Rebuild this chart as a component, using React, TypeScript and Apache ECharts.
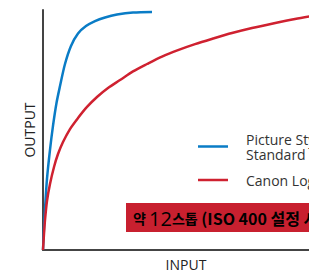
import React, { useEffect, useRef } from "react";
import * as echarts from "echarts";

const seriesNames = ["Picture Style\nStandard", "Canon Log"];
const seriesColors = ["#0a7cc6", "#cf2130"];
const standardInput = [0, 0.33, 0.67, 1.33, 2.33, 3.33, 4.5, 5.67, 7.33, 9.33, 11.67, 14.33, 17.33, 20.67, 24.67, 30, 36.33];
const standardOutput = [0, 9.2, 17.1, 29.6, 41.7, 51.7, 61.25, 68.3, 77.5, 85, 90.2, 93.3, 95.4, 96.9, 98.1, 98.96, 99.2];
const logInput = [0, 0.33, 0.67, 1.33, 2.33, 3.67, 5, 6.67, 9, 11.67, 14.67, 18, 21.67, 25.67, 30, 34.67, 39.67, 45, 50.67, 56.67, 63, 69.67, 76.67, 84, 91.67, 100];
const logOutput = [0, 6.67, 12.5, 20.4, 27.5, 34.6, 40, 45, 50.4, 55, 59.6, 63.75, 67.5, 70.8, 74.4, 77.5, 80.6, 83.3, 85.8, 88.1, 90.4, 92.5, 94.4, 96.25, 97.9, 99.6];
const axisNames = ["INPUT", "OUTPUT"];
const bannerParts = ["약 ", "12", "스톱", " (ISO 400 설정 시)"];

const FONT = "'Open Sans', 'Noto Sans CJK KR', sans-serif";
const KR = "'Noto Sans CJK KR', sans-serif";

export default function App() {
  const ref = useRef<HTMLDivElement>(null);
  useEffect(() => {
    if (!ref.current) return;
    const chart = echarts.init(ref.current, undefined, { renderer: "svg" });
    const zip = (xs: number[], ys: number[]) => xs.map((x, i) => [x, ys[i]]);
    const legendY = [146.5, 180];
    const legendItems = seriesNames.flatMap((name, i) => [
      {
        type: "line",
        shape: { x1: 198, y1: legendY[i], x2: 228, y2: legendY[i] },
        style: { stroke: seriesColors[i], lineWidth: 2.5 },
      },
      {
        type: "text", x: 246, y: legendY[i],
        style: { text: name, font: `14px ${FONT}`, fill: "#333", lineHeight: 15, verticalAlign: "middle" },
      },
    ]);
    chart.setOption({
      animation: false,
      grid: { left: 43, top: 10, width: 300, height: 240 },
      xAxis: {
        type: "value", min: 0, max: 100,
        axisLine: { show: true, lineStyle: { color: "#444", width: 2 } },
        axisTick: { show: false }, axisLabel: { show: false }, splitLine: { show: false },
      },
      yAxis: {
        type: "value", min: 0, max: 100,
        axisLine: { show: true, lineStyle: { color: "#444", width: 2 } },
        axisTick: { show: false }, axisLabel: { show: false }, splitLine: { show: false },
      },
      series: [
        {
          name: seriesNames[0], type: "line", smooth: 0.3, showSymbol: false,
          lineStyle: { color: seriesColors[0], width: 2.5 }, itemStyle: { color: seriesColors[0] },
          data: zip(standardInput, standardOutput),
        },
        {
          name: seriesNames[1], type: "line", smooth: 0.3, showSymbol: false,
          lineStyle: { color: seriesColors[1], width: 2.5 }, itemStyle: { color: seriesColors[1] },
          data: zip(logInput, logOutput),
        },
      ],
      graphic: [
        ...legendItems,
        {
          type: "text", x: 186, y: 264,
          style: { text: axisNames[0], font: `14px ${FONT}`, fill: "#222", align: "center", verticalAlign: "middle" },
        },
        {
          type: "text", x: 29, y: 130, rotation: Math.PI / 2,
          style: { text: axisNames[1], font: `14px ${FONT}`, fill: "#222", align: "center", verticalAlign: "middle" },
        },
        {
          type: "rect", shape: { x: 126, y: 203, width: 260, height: 29 },
          style: { fill: "#c8202f" },
        },
        {
          type: "text", x: 133, y: 218,
          style: {
            text: `{a|${bannerParts[0]}}{b|${bannerParts[1]}}{c|${bannerParts[2]}}{d|${bannerParts[3]}}`,
            verticalAlign: "middle",
            rich: {
              a: { fontFamily: KR, fontSize: 14, fontWeight: "bold", color: "#fff" },
              b: { fontFamily: "'Open Sans', sans-serif", fontSize: 20, fontWeight: 500, color: "#fff" },
              c: { fontFamily: KR, fontSize: 14, fontWeight: "bold", color: "#fff" },
              d: { fontFamily: KR, fontSize: 16, fontWeight: "bold", color: "#fff" },
            },
          },
        },
      ],
    });
    return () => chart.dispose();
  }, []);
  return (
    <div style={{ position: "fixed", left: 0, top: 0, width: 309, height: 272, overflow: "hidden", background: "#fff" }}>
      <div ref={ref} style={{ width: 420, height: 272 }} />
    </div>
  );
}
